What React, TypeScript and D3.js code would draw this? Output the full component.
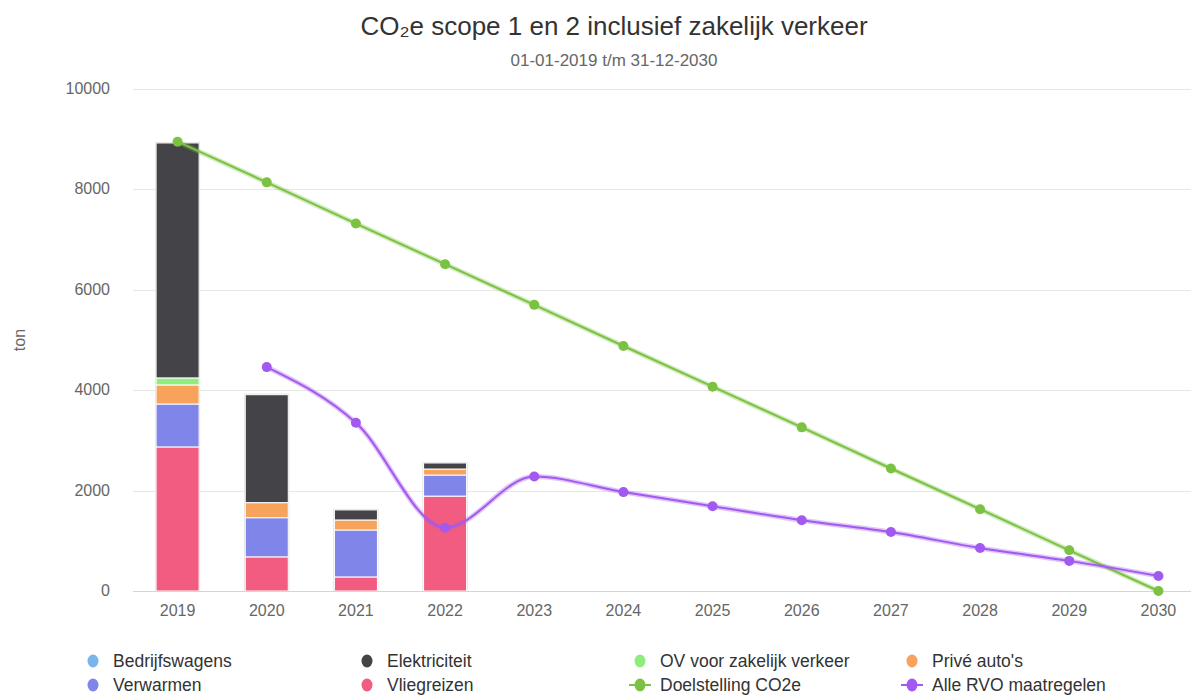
import { useEffect, useRef } from "react";
import * as d3 from "d3";

// Years on the x axis
const years = ["2019", "2020", "2021", "2022", "2023", "2024", "2025", "2026", "2027", "2028", "2029", "2030"];

// Stacked bar series (only 2019 - 2022 have values)
const barYears = ["2019", "2020", "2021", "2022"];
const bedrijfswagens = [0, 0, 0, 0];
const elektriciteit = [4680, 2150, 200, 120];
const ovZakelijk = [140, 0, 0, 0];
const priveAutos = [380, 300, 200, 120];
const verwarmen = [855, 780, 935, 420];
const vliegreizen = [2870, 680, 280, 1890];

// Line series
const doelstelling = [8950, 8140, 7320, 6510, 5700, 4880, 4070, 3260, 2440, 1630, 810, 0];
const alleRvo: (number | null)[] = [null, 4460, 3350, 1260, 2280, 1970, 1690, 1410, 1175, 855, 600, 300];

const yTicks = [0, 2000, 4000, 6000, 8000, 10000];

const barSeries = [
  { name: "Bedrijfswagens", values: bedrijfswagens, color: "#7cb5ec" },
  { name: "Elektriciteit", values: elektriciteit, color: "#434348" },
  { name: "OV voor zakelijk verkeer", values: ovZakelijk, color: "#90ed7d" },
  { name: "Privé auto's", values: priveAutos, color: "#f7a35c" },
  { name: "Verwarmen", values: verwarmen, color: "#8085e9" },
  { name: "Vliegreizen", values: vliegreizen, color: "#f15c80" },
];

const GREEN = "#7cc242";
const PURPLE = "#a259ef";

export default function App() {
  const svgRef = useRef<SVGSVGElement>(null);

  useEffect(() => {
    if (!svgRef.current) return;
    const svg = d3.select(svgRef.current);
    svg.selectAll("*").remove();

    const chartWidth = 1228; // the original chart is wider than the window
    const marginLeft = 133;
    const plotRight = 1203;
    const marginTop = 89;
    const plotBottom = 591;
    const font = "'Liberation Sans', Arial, sans-serif";

    const x = d3.scaleBand<string>().domain(years).range([marginLeft, plotRight]);
    const y = d3.scaleLinear().domain([0, 10000]).range([plotBottom, marginTop]);
    const cx = (yr: string) => (x(yr) ?? 0) + x.bandwidth() / 2;

    // Title
    svg
      .append("text")
      .attr("x", chartWidth / 2)
      .attr("y", 35)
      .attr("text-anchor", "middle")
      .attr("font-family", font)
      .attr("font-size", "26px")
      .attr("fill", "#333333")
      .text("CO₂e scope 1 en 2 inclusief zakelijk verkeer");

    svg
      .append("text")
      .attr("x", chartWidth / 2)
      .attr("y", 66)
      .attr("text-anchor", "middle")
      .attr("font-family", font)
      .attr("font-size", "17px")
      .attr("fill", "#666666")
      .text("01-01-2019 t/m 31-12-2030");

    // Grid
    svg
      .append("g")
      .selectAll("line")
      .data(yTicks.filter((t) => t > 0))
      .join("line")
      .attr("x1", marginLeft)
      .attr("x2", plotRight)
      .attr("y1", (d) => Math.round(y(d)) + 0.5)
      .attr("y2", (d) => Math.round(y(d)) + 0.5)
      .attr("stroke", "#e6e6e6");

    // Y axis labels
    svg
      .append("g")
      .selectAll("text")
      .data(yTicks)
      .join("text")
      .attr("x", 110)
      .attr("y", (d) => y(d) + 5)
      .attr("text-anchor", "end")
      .attr("font-family", font)
      .attr("font-size", "16px")
      .attr("fill", "#666666")
      .text((d) => String(d));

    svg
      .append("text")
      .attr("transform", `translate(25,${(marginTop + plotBottom) / 2}) rotate(-90)`)
      .attr("text-anchor", "middle")
      .attr("font-family", font)
      .attr("font-size", "16px")
      .attr("fill", "#666666")
      .text("ton");

    // Stacked bars
    const rows = barYears.map((yr, i) => {
      const row: Record<string, any> = { year: yr };
      barSeries.forEach((s) => (row[s.name] = s.values[i]));
      return row;
    });
    const keys = barSeries.map((s) => s.name).reverse();
    const stacked = d3.stack<Record<string, any>>().keys(keys)(rows);
    const colorOf = (k: string) => barSeries.find((s) => s.name === k)!.color;
    const barW = 43;

    // soft shadow behind bars
    svg
      .append("g")
      .selectAll("rect")
      .data(rows)
      .join("rect")
      .attr("x", (d) => cx(d.year) - barW / 2 - 1)
      .attr("width", barW + 2)
      .attr("y", (d) => y(d3.sum(keys, (k) => d[k])) - 1)
      .attr("height", (d) => plotBottom - y(d3.sum(keys, (k) => d[k])) + 1)
      .attr("fill", "#d8d8d8");

    svg
      .append("g")
      .selectAll("g")
      .data(stacked)
      .join("g")
      .attr("fill", (d) => colorOf(d.key))
      .selectAll("rect")
      .data((d) => d.filter((p) => p[1] - p[0] > 0))
      .join("rect")
      .attr("x", (d) => cx(d.data.year) - barW / 2)
      .attr("width", barW)
      .attr("y", (d) => y(d[1]))
      .attr("height", (d) => y(d[0]) - y(d[1]))
      .attr("stroke", "#ffffff")
      .attr("stroke-width", 1);

    // X axis line
    svg
      .append("line")
      .attr("x1", marginLeft)
      .attr("x2", plotRight)
      .attr("y1", plotBottom + 0.5)
      .attr("y2", plotBottom + 0.5)
      .attr("stroke", "#ccd6eb");

    svg
      .append("g")
      .selectAll("text")
      .data(years)
      .join("text")
      .attr("x", (d) => cx(d))
      .attr("y", 616)
      .attr("text-anchor", "middle")
      .attr("font-family", font)
      .attr("font-size", "16px")
      .attr("fill", "#666666")
      .text((d) => d);

    // Lines
    const drawLine = (values: (number | null)[], color: string, curve: d3.CurveFactory) => {
      const pts = years
        .map((yr, i) => ({ yr, v: values[i] }))
        .filter((p) => p.v !== null) as { yr: string; v: number }[];
      const line = d3
        .line<{ yr: string; v: number }>()
        .x((d) => cx(d.yr))
        .y((d) => y(d.v))
        .curve(curve);
      svg
        .append("path")
        .attr("d", line(pts))
        .attr("fill", "none")
        .attr("stroke", color)
        .attr("stroke-opacity", 0.35)
        .attr("stroke-width", 5);
      svg
        .append("path")
        .attr("d", line(pts))
        .attr("fill", "none")
        .attr("stroke", color)
        .attr("stroke-width", 2);
      svg
        .append("g")
        .selectAll("circle")
        .data(pts)
        .join("circle")
        .attr("cx", (d) => cx(d.yr))
        .attr("cy", (d) => y(d.v))
        .attr("r", 5)
        .attr("fill", color);
    };
    drawLine(doelstelling, GREEN, d3.curveLinear);
    drawLine(alleRvo, PURPLE, d3.curveMonotoneX);

    // Legend
    const legendItems = [
      ...barSeries.map((s) => ({ name: s.name, color: s.color, line: false })),
      { name: "Doelstelling CO2e", color: GREEN, line: true },
      { name: "Alle RVO maatregelen", color: PURPLE, line: true },
    ];
    const colX = [93, 367, 640, 912];
    const legend = svg
      .append("g")
      .selectAll("g")
      .data(legendItems)
      .join("g")
      .attr("transform", (_, i) => `translate(${colX[i % 4]},${661 + Math.floor(i / 4) * 24})`);
    legend
      .filter((d) => d.line)
      .append("line")
      .attr("x1", -11)
      .attr("x2", 11)
      .attr("stroke", (d) => d.color)
      .attr("stroke-width", 2);
    legend
      .append("ellipse")
      .attr("rx", 5.5)
      .attr("ry", 6.5)
      .attr("fill", (d) => d.color);
    legend
      .append("text")
      .attr("x", 20)
      .attr("y", 6)
      .attr("font-family", font)
      .attr("font-size", "17.5px")
      .attr("fill", "#333333")
      .text((d) => d.name);

    return () => {
      svg.selectAll("*").remove();
    };
  }, []);

  return (
    <svg
      ref={svgRef}
      width={1191}
      height={695}
      style={{ position: "absolute", left: 0, top: 0, display: "block", overflow: "hidden", background: "#ffffff" }}
    />
  );
}
